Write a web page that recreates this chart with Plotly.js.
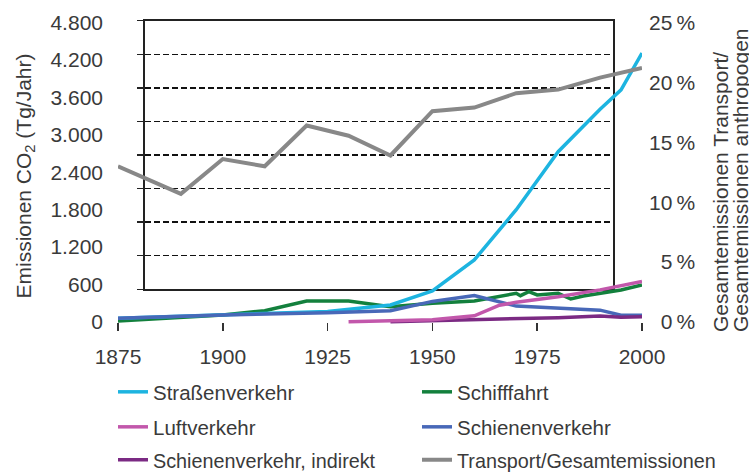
<!DOCTYPE html>
<html><head><meta charset="utf-8">
<script src="https://cdn.plot.ly/plotly-3.0.1.min.js"></script>
<style>html,body{margin:0;padding:0;background:#fff}#chart{width:749px;height:472px}</style>
</head><body><div id="chart"></div>
<script>
// ---- data ----
const roadYears = [1875, 1900, 1925, 1940, 1950, 1960, 1970, 1980, 1990, 1995, 2000];
const roadCO2   = [60, 110, 170, 273, 497, 995, 1800, 2730, 3410, 3720, 4310];
const shipYears = [1875, 1900, 1910, 1920, 1930, 1940, 1950, 1960, 1970, 1971, 1973, 1975, 1980, 1983, 1986, 1990, 1995, 2000];
const shipCO2   = [15, 112, 181, 337, 337, 246, 300, 337, 460, 422, 486, 433, 460, 369, 417, 460, 514, 594];
const airYears  = [1930, 1940, 1950, 1960, 1966, 1970, 1980, 1990, 2000];
const airCO2    = [5, 15, 35, 100, 270, 315, 405, 515, 650];
const railYears = [1875, 1900, 1925, 1940, 1950, 1960, 1970, 1980, 1990, 1995, 2000];
const railCO2   = [60, 112, 150, 180, 330, 425, 255, 220, 190, 110, 110];
const railIndYears = [1940, 1950, 1960, 1970, 1980, 1990, 1995, 2000];
const railIndCO2   = [5, 20, 40, 60, 70, 95, 75, 85];
const shareYears = [1875, 1890, 1900, 1910, 1920, 1930, 1940, 1950, 1960, 1970, 1980, 1990, 2000];
const sharePct   = [13.0, 10.7, 13.6, 13.0, 16.4, 15.55, 13.9, 17.6, 17.9, 19.1, 19.4, 20.4, 21.2];

const seriesNames = ['Straßenverkehr', 'Schifffahrt', 'Luftverkehr', 'Schienenverkehr', 'Schienenverkehr, indirekt', 'Transport/Gesamtemissionen'];

const yearTicks = [1875, 1900, 1925, 1950, 1975, 2000];
const yearTickText = ['1875', '1900', '1925', '1950', '1975', '2000'];
const co2Ticks = [0, 600, 1200, 1800, 2400, 3000, 3600, 4200, 4800];
const co2TickText = ['0', '600', '1.200', '1.800', '2.400', '3.000', '3.600', '4.200', '4.800'];
const pctTicks = [0, 5, 10, 15, 20, 25];
const pctTickText = ['\u20070\u2009%', '\u20075\u2009%', '10\u2009%', '15\u2009%', '20\u2009%', '25\u2009%'];
const frameTicks = [0, 1, 2, 3, 4, 5, 6, 7, 8];

// ---- geometry ----
const W = 749, H = 472, L = 118, R = 107, T = 10, B = 130;
const plotW = W - L - R, plotH = H - T - B;
const px = p => (p - L) / plotW;
const py = p => 1 - (p - T) / plotH;
const unitsPerPx = 4800 / (322 - 22.5);
const yTop = 4800 + (22.5 - T) * unitsPerPx;
const yBot = -(T + plotH - 322) * unitsPerPx;
const pctFactor = 4800 / 25;

const FONT = 'Liberation Sans, Arial, sans-serif';
const TXT = '#3a3a3a';

const C = {road: '#1db4e0', ship: '#13803d', air: '#c257ab', rail: '#4868b8', railInd: '#7b2a83', share: '#888888'};

function line(x, y, name, color, width, legend, rank, yaxis) {
  return {type: 'scatter', mode: 'lines', x: x, y: y, name: name,
    xaxis: 'x2', yaxis: yaxis || 'y2', legend: legend, legendrank: rank,
    line: {color: color, width: width}, hoverinfo: 'skip'};
}

const traces = [
  {type: 'scatter', mode: 'lines', x: [null], y: [null], xaxis: 'x', yaxis: 'y', showlegend: false, hoverinfo: 'skip'},
  line(shareYears, sharePct, seriesNames[5], C.share, 4, 'legend3', 6, 'y3'),
  line(shipYears, shipCO2, seriesNames[1], C.ship, 3.5, 'legend', 2),
  line(roadYears, roadCO2, seriesNames[0], C.road, 3.5, 'legend', 1),
  line(railYears, railCO2, seriesNames[3], C.rail, 3.5, 'legend2', 4),
  line(railIndYears, railIndCO2, seriesNames[4], C.railInd, 3.5, 'legend3', 5),
  line(airYears, airCO2, seriesNames[2], C.air, 3.5, 'legend2', 3)
];

const legBase = {orientation: 'h', xanchor: 'left', yanchor: 'middle', x: px(113),
  font: {family: FONT, size: 20.5, color: TXT}, entrywidth: 259, entrywidthmode: 'pixels',
  bgcolor: 'rgba(0,0,0,0)', borderwidth: 0, itemwidth: 30, traceorder: 'normal'};

const layout = {
  width: W, height: H,
  margin: {l: L, r: R, t: T, b: B, pad: 0, autoexpand: false},
  paper_bgcolor: '#ffffff', plot_bgcolor: 'rgba(0,0,0,0)',
  font: {family: FONT, size: 21, color: TXT},
  showlegend: true,
  legend: Object.assign({}, legBase, {y: py(392)}),
  legend2: Object.assign({}, legBase, {y: py(427)}),
  legend3: Object.assign({}, legBase, {y: py(460), font: {family: FONT, size: 19.8, color: TXT}}),
  // frame with dashed grid
  xaxis: {domain: [px(145), px(613.3)], range: [0, 1], anchor: 'y', showline: true, mirror: true,
    linecolor: '#222', linewidth: 2, showgrid: false, zeroline: false, ticks: '', showticklabels: false, fixedrange: true},
  yaxis: {domain: [py(289.3), py(20.7)], range: [0, 8], anchor: 'x', tickvals: frameTicks,
    showgrid: true, gridcolor: '#111111', gridwidth: 1.5, griddash: '6px,3px',
    showline: true, mirror: true, linecolor: '#222', linewidth: 2,
    ticks: 'outside', ticklen: 6, tickwidth: 1.5, tickcolor: '#222', showticklabels: false, zeroline: false, fixedrange: true},
  yaxis4: {overlaying: 'y', side: 'right', anchor: 'x', range: [0, 25], tickvals: pctTicks,
    ticks: 'outside', ticklen: 7, tickwidth: 1.5, tickcolor: '#222', showticklabels: false,
    showgrid: false, zeroline: false, showline: false},
  yaxis5: {overlaying: 'y', side: 'right', anchor: 'x', range: [0, 25], tickvals: pctTicks,
    ticks: 'inside', ticklen: 6, tickwidth: 1.5, tickcolor: '#222', showticklabels: false,
    showgrid: false, zeroline: false, showline: false},
  // data axes
  xaxis2: {domain: [0, 1], range: [1875, 2000], anchor: 'free', position: py(322),
    tickvals: yearTicks, ticktext: yearTickText, ticks: 'outside', ticklen: 8, tickwidth: 1.5, tickcolor: '#333',
    showline: false, showgrid: false, zeroline: false, tickfont: {size: 21, color: TXT}, ticklabelstandoff: 8, fixedrange: true},
  yaxis2: {domain: [0, 1], range: [yBot, yTop], anchor: 'x2', side: 'left',
    tickvals: co2Ticks, ticktext: co2TickText, ticks: '', showgrid: false, zeroline: false, showline: false,
    tickfont: {size: 21, color: TXT}, ticklabelstandoff: 14, fixedrange: true,
    title: {text: 'Emissionen CO<sub>2</sub> (Tg/Jahr)', font: {size: 21, color: TXT}, standoff: 13}},
  yaxis3: {overlaying: 'y2', side: 'right', anchor: 'x2', range: [yBot / pctFactor, yTop / pctFactor],
    tickvals: pctTicks, ticktext: pctTickText, ticks: '', showgrid: false, zeroline: false, showline: false,
    tickfont: {size: 21, color: TXT}, ticklabelstandoff: 6, fixedrange: true},
  annotations: [
    {xref: 'paper', yref: 'paper', x: px(720), y: py(333), xanchor: 'center', yanchor: 'bottom',
     text: 'Gesamtemissionen Transport/', textangle: -90, showarrow: false, borderpad: 0,
     font: {size: 21, color: TXT}},
    {xref: 'paper', yref: 'paper', x: px(740), y: py(333), xanchor: 'center', yanchor: 'bottom',
     text: 'Gesamtemissionen anthropogen', textangle: -90, showarrow: false, borderpad: 0,
     font: {size: 21, color: TXT}}
  ]
};

Plotly.newPlot('chart', traces, layout, {staticPlot: true, displayModeBar: false});
</script>
</body></html>
